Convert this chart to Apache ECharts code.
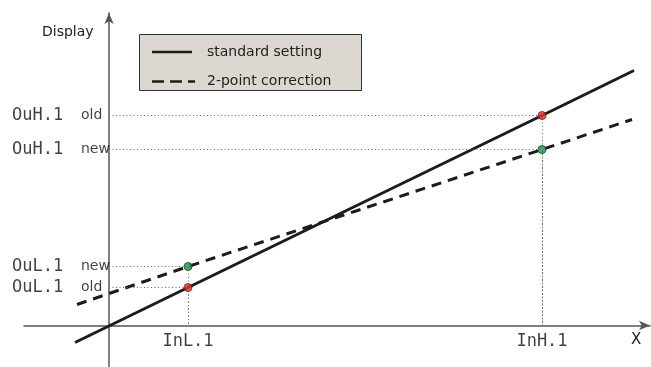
<!DOCTYPE html>
<html>
<head>
<meta charset="utf-8">
<script src="https://cdn.jsdelivr.net/npm/echarts@6/dist/echarts.min.js"></script>
<style>html,body{margin:0;padding:0;background:#fff}#c{width:651px;height:367px}</style>
</head>
<body>
<div id="c"></div>
<script>
// Input positions (x) of the two calibration points
var inputs = [7.9, 43.3];
var inputLabels = ['InL.1', 'InH.1'];
// Standard setting line (solid)
var standardX = [-3.4, 7.9, 43.3, 52.5];
var standardY = [-1.7, 3.8, 21.0, 25.5];
// 2-point correction line (dashed)
var correctionX = [-3.2, 7.9, 43.3, 52.3];
var correctionY = [2.1, 5.9, 17.6, 20.6];
// Output values
var oldOutputs = [3.8, 21.0];   // OuL.1 old, OuH.1 old
var newOutputs = [5.9, 17.6];   // OuL.1 new, OuH.1 new
var outputTickValues = [21.0, 17.6, 5.9, 3.8];
var outputTickNames = ['OuH.1', 'OuH.1', 'OuL.1', 'OuL.1'];
var outputTickTags = ['old', 'new', 'new', 'old'];
var legendNames = ['standard setting', '2-point correction'];

function zip(a, b) { return a.map(function (v, i) { return [v, b[i]]; }); }

var guides = [];
inputs.forEach(function (x, i) {
  [oldOutputs[i], newOutputs[i]].forEach(function (y) {
    guides.push([{ coord: [0, y] }, { coord: [x, y] }]);
    guides.push([{ coord: [x, y] }, { coord: [x, 0] }]);
  });
});

var mono = 'DejaVu Sans Mono';
var sans = 'DejaVu Sans';

var chart = echarts.init(document.getElementById('c'), null, { renderer: 'canvas' });
chart.setOption({
  animation: false,
  backgroundColor: '#ffffff',
  grid: { left: 24, right: 1, top: 13, bottom: 0, containLabel: false, outerBoundsMode: 'none' },
  xAxis: {
    type: 'value', min: -8.5, max: 54.1,
    splitLine: { show: false },
    axisTick: { show: false },
    axisLabel: { show: false },
    axisLine: { onZero: true, lineStyle: { color: '#555', width: 1.5 }, symbol: ['none', 'arrow'], symbolSize: [7, 11] }
  },
  yAxis: {
    type: 'value', min: -4.15, max: 31.25,
    splitLine: { show: false },
    axisTick: { show: false },
    axisLabel: { show: false },
    axisLine: { onZero: true, lineStyle: { color: '#555', width: 1.5 }, symbol: ['none', 'arrow'], symbolSize: [7, 11] }
  },
  series: [
    {
      name: 'guides', type: 'scatter', data: [], silent: true,
      markLine: {
        silent: true, symbol: 'none', animation: false,
        label: { show: false },
        lineStyle: { color: '#666', width: 1, type: [1, 2.5] },
        data: guides
      }
    },
    {
      name: legendNames[0], type: 'line', data: zip(standardX, standardY),
      symbol: 'none', lineStyle: { color: '#1c1c1c', width: 3 }, z: 3
    },
    {
      name: legendNames[1], type: 'line', data: zip(correctionX, correctionY),
      symbol: 'none', lineStyle: { color: '#1c1c1c', width: 3, type: [10, 7] }, z: 3
    },
    {
      name: 'old', type: 'scatter', data: zip(inputs, oldOutputs), symbolSize: 8, z: 5,
      itemStyle: { color: '#e3312b', borderColor: '#6a1c18', borderWidth: 1 }
    },
    {
      name: 'new', type: 'scatter', data: zip(inputs, newOutputs), symbolSize: 8, z: 5,
      itemStyle: { color: '#1a9447', borderColor: '#0f4a22', borderWidth: 1 }
    },
    {
      name: 'outputLabels', type: 'scatter', silent: true, symbolSize: 0, z: 6,
      data: outputTickValues.map(function (v) { return [0, v]; }),
      label: {
        show: true, position: 'left', distance: 0,
        color: '#111', fontFamily: sans, fontSize: 14,
        formatter: function (p) {
          var i = p.dataIndex;
          return '{a|' + outputTickNames[i] + '}{b|' + outputTickTags[i] + '}';
        },
        rich: {
          a: { fontFamily: mono, fontSize: 17, color: '#111', width: 69, align: 'left' },
          b: { fontFamily: sans, fontSize: 14, color: '#111', width: 28, align: 'left' }
        }
      }
    },
    {
      name: 'inputLabels', type: 'scatter', silent: true, symbolSize: 0, z: 6,
      data: inputs.map(function (v) { return [v, 0]; }),
      label: {
        show: true, position: 'bottom', distance: 8,
        fontFamily: mono, fontSize: 17, color: '#111',
        formatter: function (p) { return inputLabels[p.dataIndex]; }
      }
    }
  ],
  graphic: [
    { type: 'text', left: 42, top: 25, style: { text: 'Display', fontFamily: sans, fontSize: 14, fill: '#222' } },
    { type: 'text', left: 631, top: 333, style: { text: 'X', fontFamily: sans, fontSize: 15, fill: '#222' } },
    { type: 'rect', shape: { x: 139.5, y: 34.5, width: 222, height: 56 }, style: { fill: '#dcd8cf', stroke: '#333', lineWidth: 1 }, z: 10 },
    { type: 'line', shape: { x1: 152, y1: 52, x2: 192, y2: 52 }, style: { stroke: '#1c1c1c', lineWidth: 2.5 }, z: 11 },
    { type: 'line', shape: { x1: 152, y1: 81.5, x2: 195, y2: 81.5 }, style: { stroke: '#1c1c1c', lineWidth: 2.5, lineDash: [12, 6] }, z: 11 },
    { type: 'text', x: 207, y: 52, style: { text: legendNames[0], fontFamily: sans, fontSize: 14, fill: '#222', verticalAlign: 'middle' }, z: 11 },
    { type: 'text', x: 207, y: 81, style: { text: legendNames[1], fontFamily: sans, fontSize: 14, fill: '#222', verticalAlign: 'middle' }, z: 11 }
  ]
});
</script>
</body>
</html>
